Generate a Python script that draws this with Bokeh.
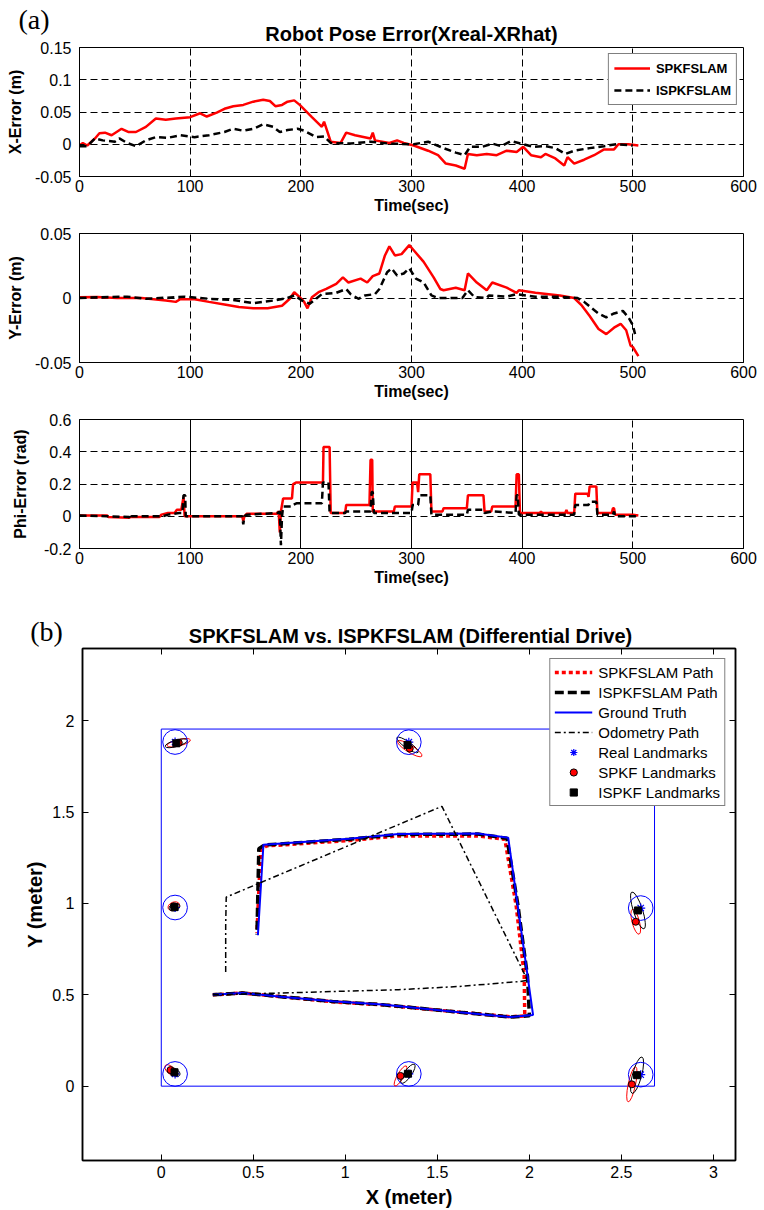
from bokeh.plotting import figure
from bokeh.layouts import column
from bokeh.models import (FixedTicker, LinearAxis, Range1d, Legend, LegendItem, Grid, Title)
from bokeh.core.properties import value
from bokeh.embed import file_html
from bokeh.resources import INLINE
import math

# ---------------- Panel (a) data ----------------
time_ticks = [0, 100, 200, 300, 400, 500, 600]
time_grid = [100, 200, 300, 400, 500]
phi_solid_grid = [100, 200, 300, 400]
phi_dashed_grid = [500]

x_ticks = [-0.05, 0, 0.05, 0.1, 0.15]
x_tick_labels = ["-0.05", "0", "0.05", "0.1", "0.15"]
y_ticks = [-0.05, 0, 0.05]
y_tick_labels = ["-0.05", "0", "0.05"]
phi_ticks = [-0.2, 0, 0.2, 0.4, 0.6]
phi_tick_labels = ["-0.2", "0", "0.2", "0.4", "0.6"]

spkf_xerr_t = [0,3,7,14,18,23,29,38,44,51,60,69,78,87,100,109,115,124,131,139,
               148,157,166,172,177,183,188,194,199,210,219,221,227,236,241,249,263,265,267,280,
               287,293,302,315,324,331,340,348,351,359,368,377,386,395,401,408,417,421,430,438,
               441,447,456,465,474,483,487,496,505]
spkf_xerr = [-0.002,0.002,-0.002,0.009,0.017,0.018,0.014,0.024,0.019,0.019,
             0.027,0.040,0.038,0.040,0.042,0.048,0.043,0.049,0.055,0.059,
             0.061,0.066,0.069,0.067,0.059,0.061,0.066,0.068,0.061,0.042,
             0.027,0.035,0.004,0.002,0.018,0.014,0.009,0.018,0.006,0.002,
             0.006,0.002,-0.002,-0.010,-0.017,-0.030,-0.033,-0.038,-0.015,-0.017,
             -0.015,-0.017,-0.010,-0.012,-0.004,-0.017,-0.020,-0.015,-0.022,-0.033,
             -0.020,-0.030,-0.024,-0.017,-0.008,-0.008,0.0,0.0,-0.002]

ispkf_xerr_t = [0,7,14,21,32,36,43,51,60,69,80,91,104,117,131,139,148,157,166,175,
                181,188,197,203,214,221,227,245,263,280,302,315,329,340,348,353,364,373,381,390,
                399,410,421,430,439,447,461,474,485,500]
ispkf_xerr = [-0.003,-0.003,0.009,0.006,0.004,0.009,0.002,-0.003,0.006,0.011,
              0.010,0.014,0.011,0.014,0.019,0.024,0.021,0.024,0.031,0.027,
              0.019,0.022,0.024,0.021,0.011,0.012,0.002,0.001,0.004,0.001,
              0.0,0.004,-0.006,-0.013,-0.017,-0.004,-0.004,0.001,-0.003,0.005,
              0.001,-0.004,-0.003,-0.006,-0.015,-0.010,-0.006,-0.003,0.0,-0.002]

spkf_yerr_t = [0,16,34,56,78,87,91,104,117,131,144,157,170,183,190,194,199,203,206,210,
               216,223,232,238,243,254,260,265,271,276,280,285,291,298,302,311,320,326,329,340,
               348,351,359,368,373,386,395,397,412,434,447,454,461,469,476,483,489,494,498,500,505]
spkf_yerr = [0.0006,0.0007,0.0,0.0,-0.002,-0.003,-0.001,-0.001,-0.003,-0.005,
             -0.007,-0.008,-0.008,-0.006,-0.0006,0.0045,0.0006,-0.003,-0.008,0.0006,
             0.0045,0.007,0.011,0.016,0.012,0.015,0.012,0.017,0.019,0.033,
             0.040,0.033,0.034,0.041,0.037,0.028,0.016,0.007,0.006,0.008,
             0.006,0.019,0.012,0.006,0.012,0.008,0.004,0.006,0.004,0.002,
             0.0,-0.006,-0.014,-0.024,-0.028,-0.023,-0.020,-0.025,-0.037,-0.038,-0.045]

ispkf_yerr_t = [0,16,43,60,95,117,139,157,175,188,194,201,208,219,232,241,245,252,258,267,
                271,278,282,287,293,298,304,311,318,324,346,351,357,368,370,386,395,412,434,450,
                456,463,469,476,483,491,496,500,502]
ispkf_yerr = [0.0,0.0005,0.001,-0.0006,0.001,-0.0006,-0.0015,-0.004,-0.002,0.0,
              0.002,-0.002,-0.0045,0.003,0.004,0.007,0.003,-0.0006,0.002,0.003,
              0.007,0.020,0.023,0.0175,0.019,0.023,0.015,0.012,0.002,0.0,
              0.0,0.006,0.0006,0.0,0.002,0.001,0.003,0.001,0.001,0.0,
              -0.003,-0.008,-0.012,-0.015,-0.012,-0.010,-0.015,-0.021,-0.028]

spkf_phi_t = [0,25,26,45,46,72,74,80,86,88,92,94,95,147,148,149,151,178,180,181,
              182,184,192,193,196,220,220.5,226,227,240,241,262,263,264.5,265,284,285,300,301,305,
              306,307,317,318,328,329,350,351,365,366,372,373,394,395,397,398,416,417,418,439,
              440,441,447,448,459,460,461,467,468,481,482,483,484,500,505]
spkf_phi = [0.005,0.005,-0.005,-0.01,-0.005,-0.005,0.01,0.02,0.02,0.04,
            0.04,0.12,0.0,0.0,-0.03,0.0,0.015,0.015,0.03,-0.10,
            0.03,0.11,0.11,0.20,0.21,0.21,0.43,0.43,0.02,0.02,
            0.07,0.07,0.35,0.35,0.03,0.03,0.06,0.06,0.21,0.21,
            0.15,0.26,0.26,0.03,0.03,0.05,0.05,0.13,0.13,0.03,
            0.03,0.06,0.06,0.26,0.26,0.02,0.02,0.03,0.02,0.02,
            0.04,0.02,0.02,0.14,0.14,0.12,0.185,0.185,0.02,0.02,
            0.05,0.05,0.01,0.01,0.005]

ispkf_phi_t = [0,25,45,46,47,75,80,90,93,94,95.5,96,147,148,149,151,179,181,182,183,
               184,192,193,196,219,220,225,226,240,241,263,264,265,266,300,301,306,307,317,318,
               350,351,365,366,373,394,395,396,397,447,448,460,461,467,468,482,483,484,505]
ispkf_phi = [0.005,0.0,-0.005,-0.02,0.0,0.0,0.01,0.02,0.02,0.13,
             0.13,0.0,0.0,-0.05,0.0,0.01,0.02,0.03,-0.18,0.0,
             0.06,0.06,0.07,0.08,0.08,0.21,0.21,0.02,0.02,0.03,
             0.03,0.15,0.15,0.02,0.02,0.07,0.07,0.13,0.13,0.01,
             0.01,0.04,0.04,0.02,0.03,0.02,0.13,0.13,0.01,0.01,
             0.07,0.07,0.09,0.09,0.01,0.01,0.03,0.0,0.0]

# ---------------- Panel (b) data ----------------
bx_ticks = [0, 0.5, 1, 1.5, 2, 2.5, 3]
bx_tick_labels = ["0", "0.5", "1", "1.5", "2", "2.5", "3"]
by_ticks = [0, 0.5, 1, 1.5, 2]
by_tick_labels = ["0", "0.5", "1", "1.5", "2"]

arena_w = 2.68
arena_h = 1.955

gt_x = [0.28, 0.44, 0.65, 0.93, 1.20, 1.62, 1.90, 2.02, 1.885, 1.72, 1.29, 1.02, 0.555, 0.525]
gt_y = [0.50, 0.51, 0.49, 0.465, 0.447, 0.405, 0.378, 0.39, 1.36, 1.383, 1.38, 1.355, 1.322, 0.826]

spkf_path_x = [0.28, 0.44, 0.65, 0.93, 1.20, 1.62, 1.90, 1.975, 1.972, 1.928, 1.867, 1.72, 1.29, 1.02, 0.57, 0.54, 0.52]
spkf_path_y = [0.50, 0.51, 0.49, 0.462, 0.445, 0.405, 0.38, 0.385, 0.61, 0.99, 1.351, 1.37, 1.37, 1.345, 1.315, 1.29, 0.84]

ispkf_path_x = [0.28, 0.44, 0.65, 0.93, 1.20, 1.62, 1.90, 2.00, 1.99, 1.938, 1.878, 1.72, 1.29, 1.02, 0.56, 0.53, 0.52]
ispkf_path_y = [0.50, 0.51, 0.49, 0.464, 0.446, 0.405, 0.378, 0.385, 0.60, 0.99, 1.357, 1.38, 1.378, 1.352, 1.32, 1.30, 0.83]

odo_x = [0.28, 0.45, 0.65, 1.00, 1.29, 1.62, 1.95, 1.99, 1.525, 0.353, 0.35, 0.35]
odo_y = [0.50, 0.505, 0.51, 0.52, 0.528, 0.546, 0.573, 0.58, 1.532, 1.035, 0.88, 0.615]

real_lm_x = [0.075, 1.345, 2.605, 0.075, 2.605, 0.075, 1.345, 2.605]
real_lm_y = [1.884, 1.883, 1.884, 0.978, 0.975, 0.067, 0.067, 0.063]

spkf_lm_x = [0.095, 1.350, 2.600, 0.068, 2.578, 0.050, 1.300, 2.557]
spkf_lm_y = [1.880, 1.848, 1.870, 0.985, 0.900, 0.088, 0.056, 0.010]
spkf_ell_w = [0.13, 0.155, 0.10, 0.065, 0.14, 0.075, 0.125, 0.195]
spkf_ell_h = [0.035, 0.04, 0.035, 0.045, 0.04, 0.04, 0.035, 0.04]
spkf_ell_deg = [14, -32, 0, 22, 105, -42, 60, 78]

ispkf_lm_x = [0.082, 1.338, 2.595, 0.072, 2.590, 0.072, 1.340, 2.585]
ispkf_lm_y = [1.877, 1.868, 1.878, 0.980, 0.962, 0.076, 0.068, 0.060]
ispkf_ell_w = [0.126, 0.14, 0.10, 0.06, 0.21, 0.065, 0.125, 0.205]
ispkf_ell_h = [0.035, 0.035, 0.035, 0.04, 0.05, 0.04, 0.04, 0.05]
ispkf_ell_deg = [16, -35, 0, 18, 108, -30, 55, 75]

lm_circle_r = 0.067

FONT = "Liberation Sans"
SERIF = "Liberation Serif"


def style_axes(p, bold_label_size):
    for ax in p.axis:
        ax.axis_line_color = "black"
        ax.axis_line_width = 1
        ax.major_tick_in = 5
        ax.major_tick_out = 0
        ax.minor_tick_line_color = None
        ax.major_tick_line_color = "black"
        ax.major_label_text_font = FONT
        ax.major_label_text_font_size = "16px"
        ax.major_label_text_color = "black"
        ax.axis_label_text_font = FONT
        ax.axis_label_text_font_style = "bold"
        ax.axis_label_text_font_size = bold_label_size
        ax.axis_label_text_color = "black"
    p.outline_line_color = "black"
    p.outline_line_width = 1
    p.outline_line_alpha = 1


def make_a(height, top, bottom, yr, yt, ytl, ylabel, ylabel_standoff, dashed_x=True):
    p = figure(width=764, height=height, x_range=Range1d(0, 600), y_range=Range1d(*yr),
               output_backend="svg", toolbar_location=None, title=None, frame_align=False,
               min_border_left=79, min_border_right=21,
               min_border_top=top, min_border_bottom=bottom)
    p.xaxis.ticker = FixedTicker(ticks=time_ticks)
    p.yaxis.ticker = FixedTicker(ticks=yt)
    p.yaxis.major_label_overrides = {v: s for v, s in zip(yt, ytl)}
    p.xaxis.axis_label = "Time(sec)"
    p.yaxis.axis_label = ylabel
    style_axes(p, "16px")
    p.xaxis.major_label_standoff = 3
    p.xaxis.axis_label_standoff = 2
    p.yaxis.major_label_standoff = 8
    p.yaxis.axis_label_standoff = ylabel_standoff
    p.ygrid.ticker = FixedTicker(ticks=yt[1:-1])
    p.ygrid.grid_line_color = "black"
    p.ygrid.grid_line_dash = "7 4"
    p.ygrid.grid_line_width = 1
    if dashed_x:
        p.xgrid.ticker = FixedTicker(ticks=time_grid)
        p.xgrid.grid_line_color = "black"
        p.xgrid.grid_line_dash = "7 4"
        p.xgrid.grid_line_width = 1
    else:
        p.xgrid.ticker = FixedTicker(ticks=phi_solid_grid)
        p.xgrid.grid_line_color = "black"
        p.xgrid.grid_line_width = 1
        g2 = Grid(dimension=0, ticker=FixedTicker(ticks=phi_dashed_grid),
                  grid_line_color="black", grid_line_dash="7 4", grid_line_width=1)
        p.add_layout(g2)
    return p


# subplot 1 (carries the panel title and the panel letter as titles above the frame)
p1 = make_a(220, 47, 44, (-0.05, 0.15), x_ticks, x_tick_labels, "X-Error (m)", 8)
title_a = Title(text="Robot Pose Error(Xreal-XRhat)", align="center", text_font=FONT,
                text_font_style="bold", text_font_size="20px", text_color="black", standoff=5)
letter_a = Title(text="(a)", align="left", offset=-61, text_font=SERIF,
                 text_font_style="normal", text_font_size="28px", text_color="black",
                 standoff=-32)
p1.add_layout(title_a, "above")
p1.add_layout(letter_a, "above")
r1 = p1.line(spkf_xerr_t, spkf_xerr, line_color="red", line_width=2.5)
r2 = p1.line(ispkf_xerr_t, ispkf_xerr, line_color="black", line_width=2.5, line_dash="7 4")
leg1 = Legend(items=[LegendItem(label="SPKFSLAM", renderers=[r1]),
                     LegendItem(label="ISPKFSLAM", renderers=[r2])],
              location="top_right", margin=6, padding=5, spacing=4,
              glyph_width=36, glyph_height=18, label_height=18, label_standoff=6,
              label_text_font=FONT, label_text_font_style="bold", label_text_font_size="13px",
              label_text_color="black",
              border_line_color="black", border_line_width=1, background_fill_alpha=1)
p1.add_layout(leg1)

# subplot 2
p2 = make_a(186, 13, 44, (-0.05, 0.05), y_ticks, y_tick_labels, "Y-Error (m)", 8)
p2.line(spkf_yerr_t, spkf_yerr, line_color="red", line_width=2.5)
p2.line(ispkf_yerr_t, ispkf_yerr, line_color="black", line_width=2.5, line_dash="7 4")

# subplot 3
p3 = make_a(186, 13, 44, (-0.2, 0.6), phi_ticks, phi_tick_labels, "Phi-Error (rad)", 12,
            dashed_x=False)
p3.line(spkf_phi_t, spkf_phi, line_color="red", line_width=2.5)
p3.line(ispkf_phi_t, ispkf_phi, line_color="black", line_width=2.5, line_dash="7 4")

# header strip of panel (b): pixel coordinates, carries the letter and the title
hB_h = 55
hB = figure(width=764, height=hB_h, x_range=Range1d(0, 764), y_range=Range1d(0, hB_h),
            x_axis_type=None, y_axis_type=None, title=None, frame_align=False,
            output_backend="svg", toolbar_location=None, min_border=0)
hB.outline_line_color = None
hB.text(x=[46], y=[16.5], text=["(b)"], text_font=value(SERIF), text_font_size="28px",
        text_align="center", text_baseline="middle", text_color="black")
hB.text(x=[410], y=[12], text=["SPKFSLAM vs. ISPKFSLAM (Differential Drive)"],
        text_font=value(FONT), text_font_size="20px", text_font_style="bold",
        text_align="center", text_baseline="middle", text_color="black")

# ---------------- Panel (b) ----------------
p4 = figure(width=764, height=563, x_range=Range1d(-0.428, 3.12), y_range=Range1d(-0.407, 2.396),
            output_backend="svg", toolbar_location=None, frame_align=False, title=None,
            min_border_left=82, min_border_right=29, min_border_top=1, min_border_bottom=46)
p4.xaxis.ticker = FixedTicker(ticks=bx_ticks)
p4.xaxis.major_label_overrides = {v: s for v, s in zip(bx_ticks, bx_tick_labels)}
p4.yaxis.ticker = FixedTicker(ticks=by_ticks)
p4.yaxis.major_label_overrides = {v: s for v, s in zip(by_ticks, by_tick_labels)}
p4.xaxis.axis_label = "X (meter)"
p4.yaxis.axis_label = "Y (meter)"
top_ax = LinearAxis(ticker=FixedTicker(ticks=bx_ticks))
right_ax = LinearAxis(ticker=FixedTicker(ticks=by_ticks))
p4.add_layout(top_ax, "above")
p4.add_layout(right_ax, "right")
style_axes(p4, "20px")
for ax in (top_ax, right_ax):
    ax.major_label_text_color = None
    ax.major_label_standoff = 0
for ax in p4.axis:
    ax.major_tick_in = 6
    ax.axis_line_width = 1.5
p4.outline_line_width = 1.5
p4.xaxis[0].major_label_standoff = 4
p4.xaxis[0].axis_label_standoff = 0
p4.yaxis[0].major_label_standoff = 8
p4.yaxis[0].axis_label_standoff = 3
p4.xgrid.visible = False
p4.ygrid.visible = False

# arena boundary
p4.quad(left=[0], right=[arena_w], bottom=[0], top=[arena_h], fill_color=None,
        line_color="blue", line_width=1)

rs = p4.line(spkf_path_x, spkf_path_y, line_color="red", line_width=3.5, line_dash="4 3")
ri = p4.line(ispkf_path_x, ispkf_path_y, line_color="black", line_width=3.5, line_dash="9 4")
rg = p4.line(gt_x, gt_y, line_color="blue", line_width=2)
ro = p4.line(odo_x, odo_y, line_color="black", line_width=1.5, line_dash="6 3 2 3")

p4.ellipse(spkf_lm_x, spkf_lm_y, width=spkf_ell_w, height=spkf_ell_h,
           angle=[math.radians(a) for a in spkf_ell_deg],
           fill_color=None, line_color="red", line_width=1)
p4.ellipse(ispkf_lm_x, ispkf_lm_y, width=ispkf_ell_w, height=ispkf_ell_h,
           angle=[math.radians(a) for a in ispkf_ell_deg],
           fill_color=None, line_color="black", line_width=1)
p4.circle(real_lm_x, real_lm_y, radius=lm_circle_r, fill_color=None, line_color="blue", line_width=1)

rr = p4.scatter(real_lm_x, real_lm_y, marker="asterisk", size=9, line_color="blue", line_width=1.2)
rsl = p4.scatter(spkf_lm_x, spkf_lm_y, marker="circle", size=7, fill_color="red",
                 line_color="black", line_width=1)
ril = p4.scatter(ispkf_lm_x, ispkf_lm_y, marker="square", size=7, fill_color="black",
                 line_color="black")

leg2 = Legend(items=[LegendItem(label="SPKFSLAM Path", renderers=[rs]),
                     LegendItem(label="ISPKFSLAM Path", renderers=[ri]),
                     LegendItem(label="Ground Truth", renderers=[rg]),
                     LegendItem(label="Odometry Path", renderers=[ro]),
                     LegendItem(label="Real Landmarks", renderers=[rr]),
                     LegendItem(label="SPKF Landmarks", renderers=[rsl]),
                     LegendItem(label="ISPKF Landmarks", renderers=[ril])],
              location="top_right", margin=10, padding=4, spacing=2,
              glyph_width=38, glyph_height=18, label_height=18, label_standoff=6,
              label_text_font=FONT, label_text_font_size="15px", label_text_color="black",
              border_line_color="black", border_line_width=1.2, background_fill_alpha=1)
p4.add_layout(leg2)

layout = column(p1, p2, p3, hB, p4, spacing=0)
open("out.html", "w").write(file_html(layout, INLINE))
